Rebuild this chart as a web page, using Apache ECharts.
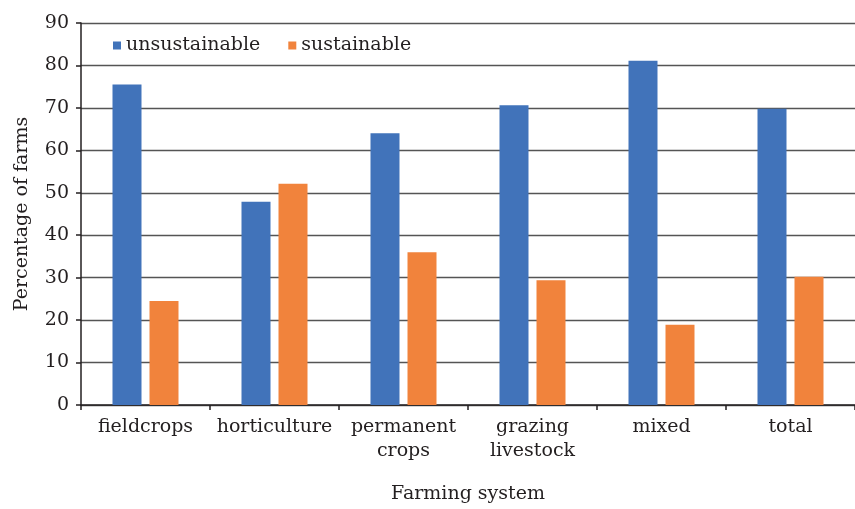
<!DOCTYPE html>
<html>
<head>
<meta charset="utf-8">
<title>Farming system sustainability</title>
<script src="https://cdn.jsdelivr.net/npm/echarts@6/dist/echarts.min.js"></script>
<style>
  html, body { margin: 0; padding: 0; background: #fff; }
  #chart { width: 855px; height: 509px; }
</style>
</head>
<body>
<div id="chart"></div>
<script>
// Farming systems on the category axis
const categories = ['fieldcrops', 'horticulture', 'permanent\ncrops', 'grazing\nlivestock', 'mixed', 'total'];
// Share of farms (%) in each class
const unsustainable = [75.5, 47.9, 64.0, 70.6, 81.1, 69.8];
const sustainable = [24.5, 52.1, 36.0, 29.4, 18.9, 30.2];
// Value axis ticks
const yTicks = { min: 0, max: 90, interval: 10 };

const FONT = 'DejaVu Serif';
const TEXT = '#231f20';

const chart = echarts.init(document.getElementById('chart'), null, { renderer: 'canvas' });

chart.setOption({
  animation: false,
  textStyle: { fontFamily: FONT, color: TEXT },
  grid: { left: 81, top: 23, width: 782, height: 388, containLabel: false },
  legend: {
    left: 108,
    top: 31,
    icon: 'rect',
    itemWidth: 8,
    itemHeight: 8,
    itemGap: 28,
    textStyle: { fontFamily: FONT, fontSize: 19, color: TEXT, padding: [0, 0, 0, 0] },
    data: ['unsustainable', 'sustainable']
  },
  xAxis: {
    type: 'category',
    data: categories,
    name: 'Farming system',
    nameLocation: 'middle',
    nameGap: 80,
    nameTextStyle: { fontFamily: FONT, fontSize: 19, color: TEXT },
    axisLine: { lineStyle: { color: '#231f20', width: 1.5 } },
    axisTick: { show: true, length: 5, lineStyle: { color: '#231f20', width: 1.5 } },
    axisLabel: {
      fontFamily: FONT, fontSize: 19, color: TEXT,
      margin: 10, lineHeight: 24, interval: 0
    }
  },
  yAxis: {
    type: 'value',
    min: yTicks.min,
    max: yTicks.max,
    interval: yTicks.interval,
    name: 'Percentage of farms',
    nameLocation: 'middle',
    nameRotate: 90,
    nameGap: 49,
    nameTextStyle: { fontFamily: FONT, fontSize: 19, color: TEXT },
    axisLine: { show: true, lineStyle: { color: '#231f20', width: 1.5 } },
    axisTick: { show: true, length: 5, lineStyle: { color: '#231f20', width: 1.5 } },
    axisLabel: { fontFamily: FONT, fontSize: 19, color: TEXT, margin: 12 },
    splitLine: { show: true, lineStyle: { color: '#555', width: 1.4 } }
  },
  series: [
    {
      name: 'unsustainable',
      type: 'bar',
      data: unsustainable,
      barWidth: 29,
      barGap: '27.6%',
      itemStyle: { color: '#4173BA' }
    },
    {
      name: 'sustainable',
      type: 'bar',
      data: sustainable,
      barWidth: 29,
      barGap: '27.6%',
      itemStyle: { color: '#F1833C' }
    }
  ]
});
</script>
</body>
</html>
